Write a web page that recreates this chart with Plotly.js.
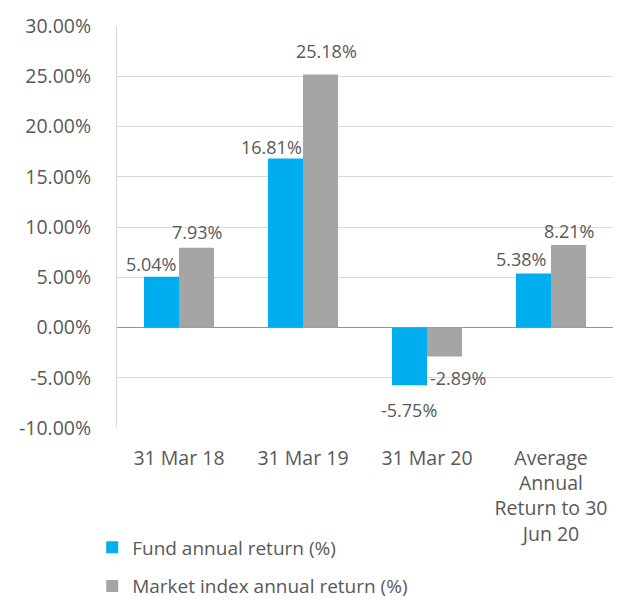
<!DOCTYPE html>
<html>
<head>
<meta charset="utf-8">
<script src="https://cdn.plot.ly/plotly-3.0.1.min.js"></script>
<style>html,body{margin:0;padding:0;background:#fff;}#chart{width:620px;height:599px;}</style>
</head>
<body>
<div id="chart"></div>
<script>
var categories = ['31 Mar 18', '31 Mar 19', '31 Mar 20', 'Average<br>Annual<br>Return to 30<br>Jun 20'];
var fundReturns = [5.04, 16.81, -5.75, 5.38];
var marketReturns = [7.93, 25.18, -2.89, 8.21];
var seriesNames = ['Fund annual return (%)', 'Market index annual return (%)'];
var yTickValues = [-10, -5, 0, 5, 10, 15, 20, 25, 30];
var yTickLabels = ['-10.00%', '-5.00%', '0.00%', '5.00%', '10.00%', '15.00%', '20.00%', '25.00%', '30.00%'];

// label placement tweaks (pixels), mimicking the original chart
var fundLabelShift = [[-10, 13], [-14, 12], [0, -25], [-12, 14]];
var marketLabelShift = [[0, 16], [6, 23], [13, -21], [0, 14]];

var textColor = '#595959';
var font = 'Open Sans, sans-serif';
var bargap = 0.435;
var half = (1 - bargap) / 4;

var traces = [
  {type: 'bar', name: seriesNames[0], x: categories, y: fundReturns,
   marker: {color: '#00AEEF'}, legendgroup: 'a', hoverinfo: 'none'},
  {type: 'bar', name: seriesNames[1], x: categories, y: marketReturns,
   marker: {color: '#A5A5A5'}, legendgroup: 'b', hoverinfo: 'none'}
];

var annotations = [];
function addLabels(vals, offset, shifts) {
  vals.forEach(function (v, i) {
    annotations.push({
      x: i + offset, y: v, xref: 'x', yref: 'y',
      text: v.toFixed(2) + '%', showarrow: false,
      xanchor: 'center', yanchor: 'middle',
      xshift: shifts[i][0], yshift: shifts[i][1],
      font: {family: font, size: 18, color: textColor}
    });
  });
}
addLabels(fundReturns, -half, fundLabelShift);
addLabels(marketReturns, half, marketLabelShift);

var layout = {
  width: 620, height: 599,
  margin: {l: 117, r: 7, t: 26, b: 171, autoexpand: false},
  paper_bgcolor: '#fff', plot_bgcolor: '#fff',
  barmode: 'group', bargap: bargap, bargroupgap: 0,
  showlegend: true,
  font: {family: font, color: textColor},
  xaxis: {
    type: 'category', showgrid: false, zeroline: false, showline: false,
    ticks: '', tickfont: {family: font, size: 19.5, color: textColor},
    ticklabelstandoff: 16, fixedrange: true, automargin: false
  },
  yaxis: {
    range: [-10, 30], tickmode: 'array', tickvals: yTickValues, ticktext: yTickLabels,
    showgrid: true, gridcolor: '#D9D9D9', gridwidth: 1,
    zeroline: true, zerolinecolor: '#8E8EC4', zerolinewidth: 1,
    showline: true, linecolor: '#D9D9D9', linewidth: 1,
    ticks: '', ticklabelstandoff: 21, automargin: false,
    tickfont: {family: font, size: 19.5, color: textColor}, fixedrange: true
  },
  legend: {
    orientation: 'v', x: -0.05, xanchor: 'left', y: -0.25, yanchor: 'top',
    traceorder: 'grouped', tracegroupgap: 11,
    font: {family: font, size: 19, color: textColor},
    itemwidth: 30, bgcolor: 'rgba(0,0,0,0)'
  },
  annotations: annotations
};

Plotly.newPlot('chart', traces, layout, {displayModeBar: false, staticPlot: true});
</script>
</body>
</html>
